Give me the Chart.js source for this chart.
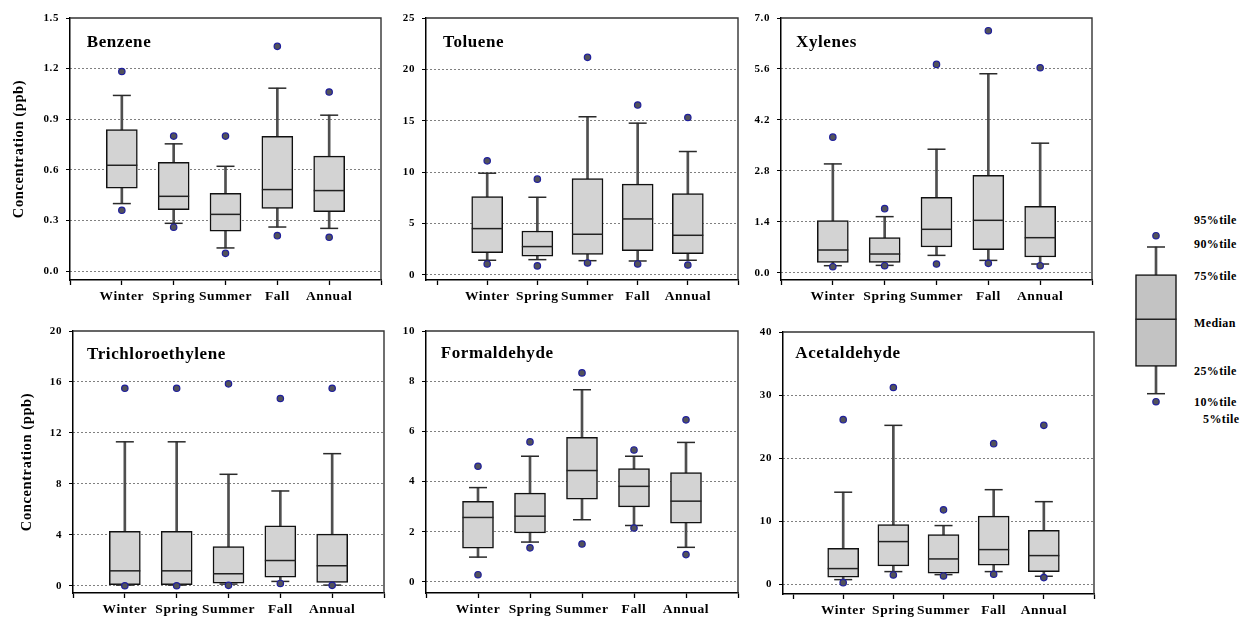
<!DOCTYPE html>
<html>
<head>
<meta charset="utf-8">
<script src="https://cdn.jsdelivr.net/npm/chart.js@4.4.1/dist/chart.umd.min.js"></script>
<style>
  html, body { margin: 0; padding: 0; background: #fff; }
  #wrap { position: relative; width: 1245px; height: 617px; overflow: hidden; background: #fff; }
  #wrap canvas { position: absolute; }
  .name { position: absolute; font: bold 17px "Liberation Serif", "Times New Roman", serif; letter-spacing: 0.6px; line-height: 20px; white-space: nowrap; color: #000; }
  .key { position: absolute; font: bold 12px "Liberation Serif", "Times New Roman", serif; letter-spacing: 0.4px; line-height: 14px; white-space: nowrap; color: #000; }
</style>
</head>
<body>
<div id="wrap"></div>
<script>
// Seasonal concentration distributions (ppb): 5th, 10th, 25th, 50th, 75th, 90th, 95th percentiles
const seasons = ['Winter', 'Spring', 'Summer', 'Fall', 'Annual'];

const benzeneP05 = [0.36, 0.26, 0.105, 0.21, 0.20];
const benzeneP10 = [0.40, 0.283, 0.137, 0.261, 0.253];
const benzeneP25 = [0.491, 0.364, 0.237, 0.372, 0.352];
const benzeneP50 = [0.627, 0.443, 0.336, 0.483, 0.477];
const benzeneP75 = [0.839, 0.645, 0.461, 0.798, 0.681];
const benzeneP90 = [1.041, 0.754, 0.621, 1.084, 0.924];
const benzeneP95 = [1.183, 0.80, 0.80, 1.332, 1.061];
const benzeneTicks = ['0.0', '0.3', '0.6', '0.9', '1.2', '1.5'];

const tolueneP05 = [1.07, 0.88, 1.17, 1.07, 0.97];
const tolueneP10 = [1.43, 1.49, 1.39, 1.36, 1.43];
const tolueneP25 = [2.18, 1.82, 2.01, 2.37, 2.08];
const tolueneP50 = [4.51, 2.76, 3.96, 5.45, 3.86];
const tolueneP75 = [7.63, 4.28, 9.38, 8.83, 7.92];
const tolueneP90 = [9.90, 7.56, 15.39, 14.77, 12.01];
const tolueneP95 = [11.10, 9.32, 21.17, 16.53, 15.32];
const tolueneTicks = ['0', '5', '10', '15', '20', '25'];

const xylenesP05 = [0.165, 0.193, 0.239, 0.257, 0.193];
const xylenesP10 = [0.193, 0.202, 0.477, 0.339, 0.239];
const xylenesP25 = [0.284, 0.284, 0.706, 0.633, 0.431];
const xylenesP50 = [0.624, 0.514, 1.193, 1.440, 0.963];
const xylenesP75 = [1.431, 0.963, 2.073, 2.679, 1.826];
const xylenesP90 = [2.99, 1.541, 3.394, 5.468, 3.56];
const xylenesP95 = [3.725, 1.761, 5.725, 6.651, 5.633];
const xylenesTicks = ['0.0', '1.4', '2.8', '4.2', '5.6', '7.0'];

const tceP05 = [0.0, 0.0, 0.03, 0.18, 0.03];
const tceP10 = [0.05, 0.05, 0.13, 0.34, 0.05];
const tceP25 = [0.08, 0.08, 0.21, 0.68, 0.26];
const tceP50 = [1.17, 1.17, 0.94, 1.98, 1.57];
const tceP75 = [4.28, 4.28, 3.08, 4.70, 4.05];
const tceP90 = [11.3, 11.3, 8.75, 7.44, 10.37];
const tceP95 = [15.5, 15.5, 15.85, 14.7, 15.5];
const tceTicks = ['0', '4', '8', '12', '16', '20'];

const formaldehydeP05 = [0.29, 1.36, 1.51, 2.15, 1.09];
const formaldehydeP10 = [0.99, 1.59, 2.48, 2.25, 1.38];
const formaldehydeP25 = [1.35, 1.95, 3.30, 2.99, 2.34];
const formaldehydeP50 = [2.57, 2.62, 4.44, 3.81, 3.22];
const formaldehydeP75 = [3.21, 3.54, 5.76, 4.52, 4.36];
const formaldehydeP90 = [3.76, 5.01, 7.66, 5.01, 5.56];
const formaldehydeP95 = [4.61, 5.58, 8.33, 5.26, 6.46];
const formaldehydeTicks = ['0', '2', '4', '6', '8', '10'];

const acetaldehydeP05 = [0.26, 1.48, 1.32, 1.59, 1.06];
const acetaldehydeP10 = [0.74, 2.01, 1.53, 2.01, 1.27];
const acetaldehydeP25 = [1.11, 2.91, 1.75, 3.02, 2.01];
const acetaldehydeP50 = [2.49, 6.77, 4.02, 5.50, 4.55];
const acetaldehydeP75 = [5.71, 9.47, 7.88, 10.8, 8.57];
const acetaldehydeP90 = [14.6, 25.2, 9.31, 15.0, 13.1];
const acetaldehydeP95 = [26.1, 31.2, 11.8, 22.3, 25.2];
const acetaldehydeTicks = ['0', '10', '20', '30', '40'];

// Key: a schematic box with its percentile labels
const keyLabels = ['95%tile', '90%tile', '75%tile', 'Median', '25%tile', '10%tile', '5%tile'];
const keyShape = [18.3, 26.3, 53.7, 100.7, 145.3, 173, 184.3]; // p5 .. p95 in key units

const SERIF = '"Liberation Serif", "Times New Roman", serif';
const BOX_FILL = '#d3d3d3';
const INK = '#111';
const WHISKER = '#4f4f4f';
const DOT_FILL = '#52525a';
const DOT_EDGE = '#1f1f9c';

const panels = [
  { name: 'Benzene', stats: [benzeneP05, benzeneP10, benzeneP25, benzeneP50, benzeneP75, benzeneP90, benzeneP95], ticks: benzeneTicks,
    rect: [0, 0, 400, 310], yW: 70, padR: 19, padT: 18, xH: 30, xMin: 0, yMin: -0.053, yTitle: 11, label: [86.7, 41.7] },
  { name: 'Toluene', stats: [tolueneP05, tolueneP10, tolueneP25, tolueneP50, tolueneP75, tolueneP90, tolueneP95], ticks: tolueneTicks,
    rect: [400, 0, 360, 310], yW: 26, padR: 22, padT: 18, xH: 30, xMin: -0.22, yMin: -0.49, yTitle: null, label: [443, 41.7] },
  { name: 'Xylenes', stats: [xylenesP05, xylenesP10, xylenesP25, xylenesP50, xylenesP75, xylenesP90, xylenesP95], ticks: xylenesTicks,
    rect: [730, 0, 380, 310], yW: 51, padR: 18, padT: 18, xH: 30, xMin: 0, yMin: -0.20, yTitle: null, label: [796, 41.7] },
  { name: 'Trichloroethylene', stats: [tceP05, tceP10, tceP25, tceP50, tceP75, tceP90, tceP95], ticks: tceTicks,
    rect: [0, 310, 400, 307], yW: 73, padR: 16, padT: 21, xH: 24, xMin: 0, yMin: -0.57, yTitle: 19, label: [87, 354.3] },
  { name: 'Formaldehyde', stats: [formaldehydeP05, formaldehydeP10, formaldehydeP25, formaldehydeP50, formaldehydeP75, formaldehydeP90, formaldehydeP95], ticks: formaldehydeTicks,
    rect: [400, 310, 360, 307], yW: 26, padR: 22, padT: 21, xH: 24, xMin: 0, yMin: -0.44, yTitle: null, label: [440.7, 353.3] },
  { name: 'Acetaldehyde', stats: [acetaldehydeP05, acetaldehydeP10, acetaldehydeP25, acetaldehydeP50, acetaldehydeP75, acetaldehydeP90, acetaldehydeP95], ticks: acetaldehydeTicks,
    rect: [750, 310, 360, 307], yW: 33, padR: 16, padT: 22, xH: 23, xMin: -0.2, yMin: -1.54, yTitle: null, label: [795.3, 353.3] }
];

// Text spacing and the top/right frame of each plot area
const spacingPlugin = {
  id: 'spacing',
  beforeDraw(chart) { chart.ctx.letterSpacing = '0.6px'; }
};
const framePlugin = {
  id: 'frame',
  afterDraw(chart, args, opts) {
    if (!opts.show) return;
    const { ctx, chartArea: a } = chart;
    ctx.save();
    ctx.strokeStyle = '#333';
    ctx.lineWidth = 1.4;
    ctx.beginPath();
    ctx.moveTo(a.left, a.top);
    ctx.lineTo(a.right, a.top);
    ctx.lineTo(a.right, a.bottom);
    ctx.stroke();
    ctx.restore();
  }
};

function boxDatasets(stats, boxWidth, boxFill) {
  const [p05, p10, p25, p50, p75, p90, p95] = stats;
  const at = (arr) => arr.map((v, i) => ({ x: i + 1, y: v }));
  return [
    { type: 'bar', data: p10.map((v, i) => ({ x: i + 1, y: [p10[i], p90[i]] })),
      backgroundColor: WHISKER, borderWidth: 0, barThickness: 2, grouped: false, order: 5, clip: false },
    { type: 'bar', data: p25.map((v, i) => ({ x: i + 1, y: [p25[i], p75[i]] })),
      backgroundColor: boxFill, borderColor: INK, borderWidth: 1.5, borderSkipped: false,
      barThickness: boxWidth, grouped: false, order: 4, clip: false },
    { type: 'scatter', data: at(p50), pointStyle: 'line', pointRadius: boxWidth / 2,
      pointBorderColor: '#222', pointBorderWidth: 1.5, order: 3, clip: false },
    { type: 'scatter', data: at(p10).concat(at(p90)), pointStyle: 'line', pointRadius: 9,
      pointBorderColor: '#2a2a2a', pointBorderWidth: 1.5, order: 2, clip: false },
    { type: 'scatter', data: at(p05).concat(at(p95)), pointStyle: 'circle', pointRadius: 3.2,
      pointBackgroundColor: DOT_FILL, pointBorderColor: DOT_EDGE, pointBorderWidth: 1.2, order: 1, clip: false }
  ];
}

const wrap = document.getElementById('wrap');

function addCanvas(x, y, w, h) {
  const c = document.createElement('canvas');
  c.width = w; c.height = h;
  c.style.left = x + 'px'; c.style.top = y + 'px';
  c.style.width = w + 'px'; c.style.height = h + 'px';
  wrap.appendChild(c);
  return c;
}

function addText(cls, text, x, y) {
  const d = document.createElement('div');
  d.className = cls;
  d.textContent = text;
  d.style.left = x + 'px';
  d.style.top = y + 'px';
  wrap.appendChild(d);
}

panels.forEach((p) => {
  const [x, y, w, h] = p.rect;
  const canvas = addCanvas(x, y, w, h);
  const tickValues = p.ticks.map(Number);
  const yMax = tickValues[tickValues.length - 1];
  const xTickValues = [0, 1, 2, 3, 4, 5, 6];

  new Chart(canvas, {
    type: 'bar',
    data: { datasets: boxDatasets(p.stats, 31, BOX_FILL) },
    options: {
      responsive: false,
      animation: false,
      devicePixelRatio: 1,
      events: [],
      layout: { autoPadding: false, padding: { left: 0, right: p.padR, top: p.padT, bottom: 0 } },
      plugins: { legend: { display: false }, tooltip: { enabled: false }, frame: { show: true } },
      scales: {
        x: {
          type: 'linear', min: p.xMin, max: 6, offset: false,
          afterBuildTicks: (ax) => { ax.ticks = xTickValues.map((v) => ({ value: v })); },
          afterFit: (ax) => { ax.height = p.xH; },
          ticks: {
            autoSkip: false, maxRotation: 0, padding: 3, color: '#000',
            font: { family: SERIF, size: 13.5, weight: 'bold' },
            callback: (v) => seasons[v - 1] || ''
          },
          grid: { offset: false, drawOnChartArea: false, drawTicks: true, tickLength: 5, tickColor: '#000', tickWidth: 1.3 },
          border: { display: true, color: '#000', width: 1.5 }
        },
        y: {
          type: 'linear', min: p.yMin, max: yMax,
          afterBuildTicks: (ax) => { ax.ticks = tickValues.map((v) => ({ value: v })); },
          afterFit: (ax) => { ax.width = p.yW; },
          ticks: {
            padding: 7, color: '#000',
            font: { family: SERIF, size: 11, weight: 'bold' },
            callback: (v) => p.ticks[tickValues.indexOf(v)]
          },
          grid: {
            drawTicks: true, tickLength: 4, tickColor: '#000', tickWidth: 1, tickBorderDash: [],
            lineWidth: 1,
            color: (ctx) => (ctx.tick && ctx.tick.value === yMax) ? 'rgba(0,0,0,0)' : '#000'
          },
          border: { display: true, color: '#000', width: 1.5, dash: [1, 3] },
          title: {
            display: p.yTitle !== null, text: 'Concentration (ppb)', color: '#000',
            font: { family: SERIF, size: 14.5, weight: 'bold' },
            padding: { top: p.yTitle || 0, bottom: 0 }
          }
        }
      }
    },
    plugins: [spacingPlugin, framePlugin]
  });

  addText('name', p.name, p.label[0], p.label[1] - 10);
});

// Key box
(function () {
  const canvas = addCanvas(1126, 220, 60, 200);
  const keyStats = keyShape.map((v) => [v]);
  const ds = boxDatasets(keyStats, 41, '#c3c3c3');
  new Chart(canvas, {
    type: 'bar',
    data: { datasets: ds },
    options: {
      responsive: false, animation: false, devicePixelRatio: 1, events: [],
      layout: { autoPadding: false, padding: 0 },
      plugins: { legend: { display: false }, tooltip: { enabled: false }, frame: { show: false } },
      scales: {
        x: { type: 'linear', min: 0, max: 2, display: false, offset: false, grid: { offset: false } },
        y: { type: 'linear', min: 0, max: 200, display: false }
      }
    },
    plugins: [framePlugin]
  });

  const keyPos = [[1194, 220], [1194, 244], [1194, 276], [1194, 323], [1194, 371], [1194, 402], [1203, 419]];
  keyLabels.forEach((t, i) => addText('key', t, keyPos[i][0], keyPos[i][1] - 7));
})();
</script>
</body>
</html>
